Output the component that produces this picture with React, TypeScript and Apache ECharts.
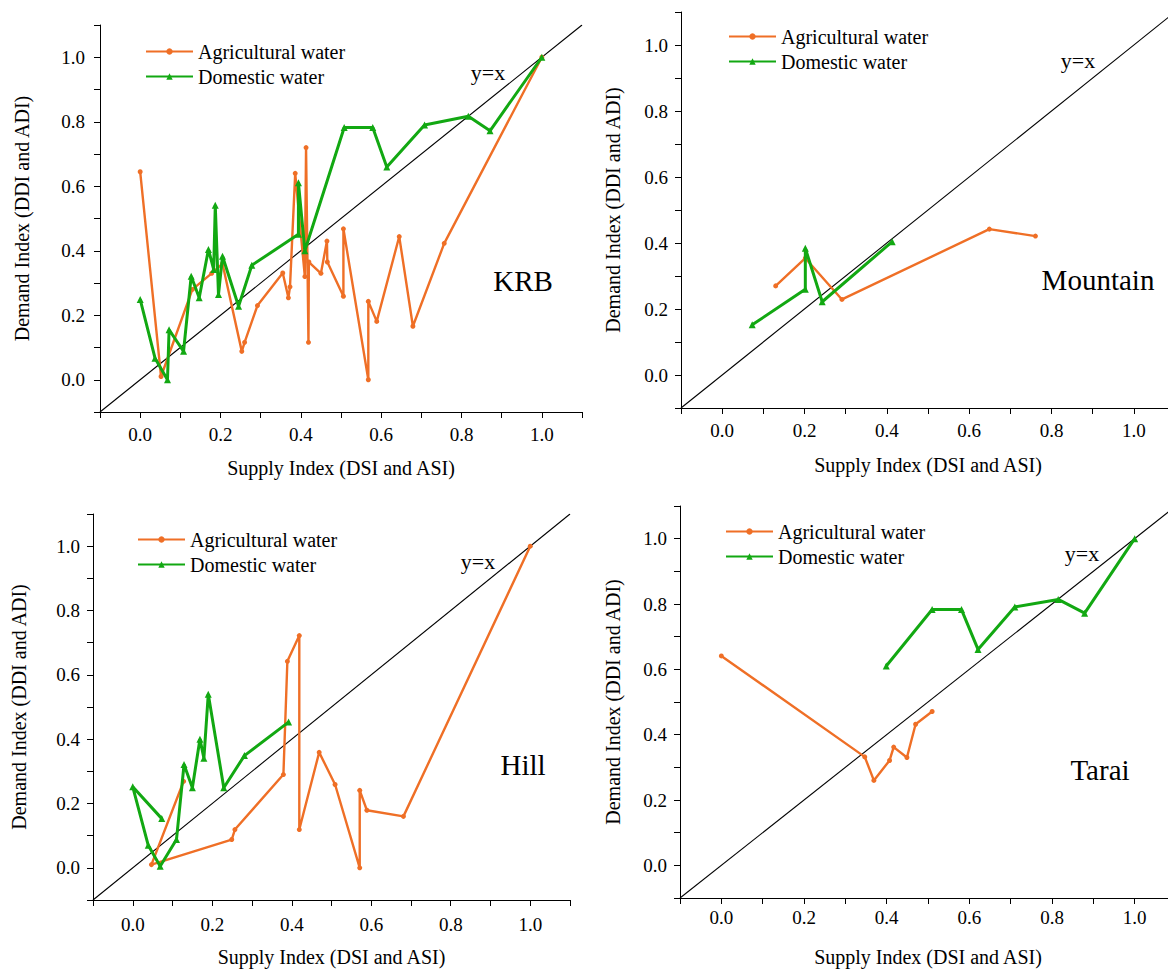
import React, { useEffect, useRef } from "react";
import * as echarts from "echarts";

// ---------- data ----------
const krbAgri: number[][] = [
  [0.0, 0.645], [0.052, 0.01], [0.13, 0.28], [0.178, 0.33], [0.205, 0.36],
  [0.253, 0.088], [0.26, 0.116], [0.292, 0.23], [0.355, 0.331], [0.369, 0.254],
  [0.373, 0.288], [0.386, 0.64], [0.41, 0.32], [0.413, 0.72], [0.419, 0.116],
  [0.42, 0.365], [0.45, 0.33], [0.465, 0.43], [0.466, 0.365], [0.506, 0.259],
  [0.506, 0.468], [0.568, 0.0], [0.568, 0.243], [0.589, 0.181], [0.645, 0.444],
  [0.679, 0.166], [0.757, 0.423], [1.0, 1.0],
];
const krbDom: number[][] = [
  [0.0, 0.249], [0.037, 0.067], [0.068, 0.0], [0.072, 0.155], [0.108, 0.088],
  [0.127, 0.321], [0.147, 0.254], [0.17, 0.404], [0.183, 0.342], [0.187, 0.541],
  [0.195, 0.264], [0.205, 0.383], [0.245, 0.228], [0.278, 0.355], [0.394, 0.451],
  [0.394, 0.611], [0.41, 0.4], [0.508, 0.782], [0.579, 0.782], [0.614, 0.66],
  [0.708, 0.79], [0.817, 0.817], [0.871, 0.772], [1.0, 1.0],
];
const mtnAgri: number[][] = [
  [0.13, 0.27], [0.202, 0.354], [0.291, 0.229], [0.649, 0.442], [0.761, 0.421],
];
const mtnDom: number[][] = [
  [0.073, 0.152], [0.202, 0.26], [0.202, 0.384], [0.243, 0.222], [0.413, 0.404],
];
const hillAgri: number[][] = [
  [0.128, 0.269], [0.047, 0.01], [0.249, 0.088], [0.257, 0.119], [0.379, 0.29],
  [0.389, 0.642], [0.419, 0.722], [0.419, 0.119], [0.469, 0.359], [0.509, 0.259],
  [0.571, 0.0], [0.571, 0.241], [0.589, 0.179], [0.681, 0.16], [1.0, 1.0],
];
const hillDom: number[][] = [
  [0.073, 0.153], [0.0, 0.252], [0.039, 0.07], [0.069, 0.005], [0.11, 0.088],
  [0.129, 0.321], [0.15, 0.249], [0.169, 0.4], [0.179, 0.341], [0.19, 0.54],
  [0.229, 0.249], [0.281, 0.349], [0.392, 0.453],
];
const taraiAgri: number[][] = [
  [0.0, 0.641], [0.347, 0.332], [0.369, 0.26], [0.407, 0.321], [0.417, 0.362],
  [0.449, 0.33], [0.47, 0.432], [0.51, 0.471],
];
const taraiDom: number[][] = [
  [0.399, 0.61], [0.51, 0.783], [0.581, 0.783], [0.621, 0.661], [0.71, 0.791],
  [0.815, 0.814], [0.879, 0.772], [1.0, 1.0],
];
const identityLine: number[][] = [[-0.1, -0.1], [1.1, 1.1]];

const regionNames = ["KRB", "Mountain", "Hill", "Tarai"];
const seriesNames = ["Agricultural water", "Domestic water"];
const xTitle = "Supply Index (DSI and ASI)";
const yTitle = "Demand Index (DDI and ADI)";
const diagLabel = "y=x";
const axisMin = -0.1;
const axisMax = 1.1;

// ---------- layout / style ----------
const FONT = "Liberation Serif, Times New Roman, serif";
const ORANGE = "#EF6F26";
const GREEN = "#12A812";

const layouts = [
  { grid: { left: 100, top: 25, width: 482, height: 387 }, yGap: 68, xGap: 46, yMargin: 15, xMargin: 13,
    legend: { left: 145, top: 41 }, region: [523, 281], diag: [488, 72] },
  { grid: { left: 681, top: 12, width: 494, height: 396 }, yGap: 58, xGap: 47, yMargin: 13, xMargin: 13,
    legend: { left: 728, top: 26 }, region: [1098, 280], diag: [1078, 60] },
  { grid: { left: 93, top: 514, width: 477, height: 386 }, yGap: 64, xGap: 47, yMargin: 13, xMargin: 15,
    legend: { left: 137, top: 529 }, region: [523, 765], diag: [478, 561] },
  { grid: { left: 680, top: 506, width: 496, height: 392 }, yGap: 57, xGap: 49, yMargin: 13, xMargin: 10,
    legend: { left: 725, top: 521 }, region: [1100, 770], diag: [1082, 553] },
];

const panelData = [
  [krbAgri, krbDom],
  [mtnAgri, mtnDom],
  [hillAgri, hillDom],
  [taraiAgri, taraiDom],
];

function tickLabel(v: number): string {
  const k = Math.round(v * 10);
  if (k < 0 || k > 10 || k % 2 !== 0) return "";
  return (k / 10).toFixed(1);
}

function buildOption() {
  const grid: any[] = [];
  const xAxis: any[] = [];
  const yAxis: any[] = [];
  const series: any[] = [];
  const legend: any[] = [];
  const graphic: any[] = [];

  layouts.forEach((L, i) => {
    grid.push({ ...L.grid, containLabel: false });
    const common = {
      type: "value",
      gridIndex: i,
      min: axisMin,
      max: axisMax,
      interval: 0.1,
      splitLine: { show: false },
      axisLine: { show: true, onZero: false, lineStyle: { color: "#000", width: 1 } },
      axisTick: { show: true, inside: false, length: 6, lineStyle: { color: "#000", width: 1 } },
      nameLocation: "middle",
      nameTextStyle: { fontSize: 20, fontFamily: FONT, color: "#000" },
    };
    xAxis.push({
      ...common,
      name: xTitle,
      nameGap: L.xGap,
      axisLabel: { formatter: tickLabel, fontSize: 19, fontFamily: FONT, color: "#000", margin: L.xMargin },
    });
    yAxis.push({
      ...common,
      name: yTitle,
      nameGap: L.yGap,
      axisLabel: { formatter: tickLabel, fontSize: 19, fontFamily: FONT, color: "#000", margin: L.yMargin },
    });
    series.push({
      type: "line",
      xAxisIndex: i,
      yAxisIndex: i,
      data: identityLine,
      symbol: "none",
      silent: true,
      lineStyle: { color: "#000", width: 1.1 },
      z: 1,
    });
    const [agri, dom] = panelData[i];
    series.push({
      name: seriesNames[0],
      type: "line",
      xAxisIndex: i,
      yAxisIndex: i,
      data: agri,
      symbol: "circle",
      symbolSize: 5,
      lineStyle: { color: ORANGE, width: 2.4 },
      itemStyle: { color: ORANGE },
      z: 2,
    });
    series.push({
      name: seriesNames[1],
      type: "line",
      xAxisIndex: i,
      yAxisIndex: i,
      data: dom,
      symbol: "triangle",
      symbolSize: 7,
      lineStyle: { color: GREEN, width: 3 },
      itemStyle: { color: GREEN },
      z: 3,
    });
    legend.push({
      data: seriesNames,
      orient: "vertical",
      left: L.legend.left,
      top: L.legend.top,
      itemWidth: 47,
      itemHeight: 8,
      itemGap: 4,
      padding: 0,
      selectedMode: false,
      textStyle: { fontSize: 20, fontFamily: FONT, color: "#000", lineHeight: 21 },
    });
    graphic.push({
      type: "text",
      x: L.region[0],
      y: L.region[1],
      style: {
        text: regionNames[i],
        fontSize: 29,
        fontFamily: FONT,
        fill: "#000",
        align: "center",
        verticalAlign: "middle",
        textAlign: "center",
        textVerticalAlign: "middle",
      },
    });
    graphic.push({
      type: "text",
      x: L.diag[0],
      y: L.diag[1],
      style: {
        text: diagLabel,
        fontSize: 22,
        fontFamily: FONT,
        fill: "#000",
        align: "center",
        verticalAlign: "middle",
        textAlign: "center",
        textVerticalAlign: "middle",
      },
    });
  });

  return {
    animation: false,
    backgroundColor: "#fff",
    grid,
    xAxis,
    yAxis,
    series,
    legend,
    graphic,
  };
}

export default function App() {
  const ref = useRef<HTMLDivElement>(null);
  useEffect(() => {
    if (!ref.current) return;
    const chart = echarts.init(ref.current, undefined, { renderer: "svg" });
    chart.setOption(buildOption() as any);
    return () => chart.dispose();
  }, []);
  return (
    <div
      style={{
        position: "fixed",
        left: 0,
        top: 0,
        width: 1168,
        height: 970,
        overflow: "hidden",
        background: "#fff",
      }}
    >
      <div ref={ref} style={{ width: 1185, height: 970 }} />
    </div>
  );
}
